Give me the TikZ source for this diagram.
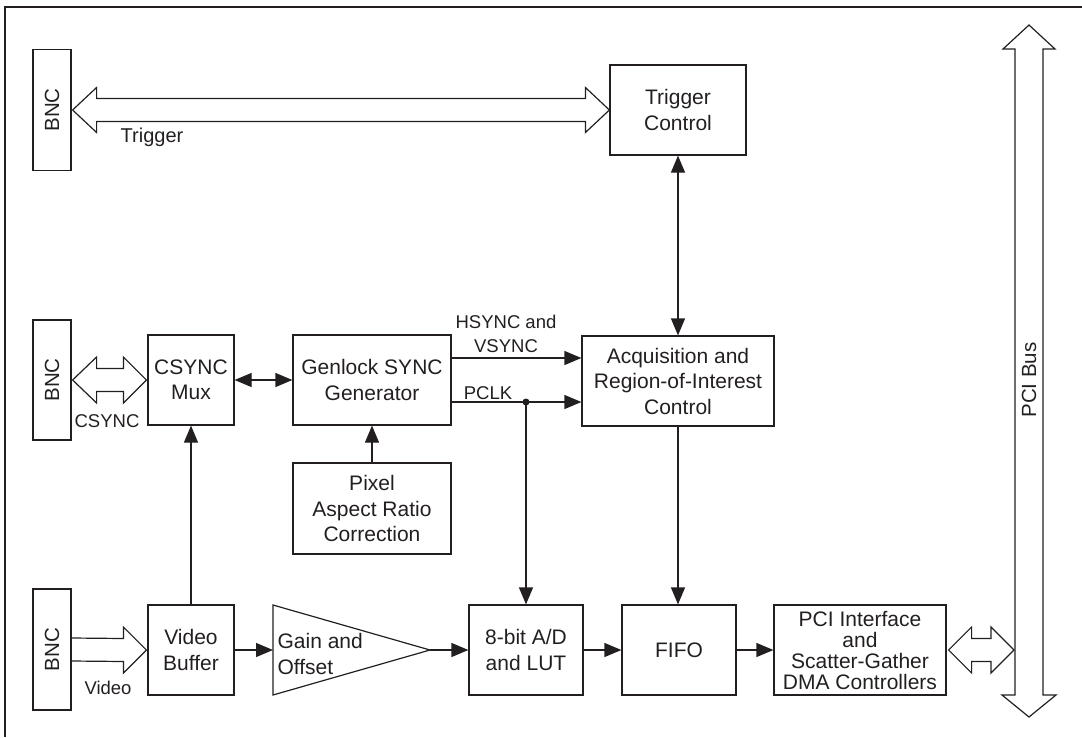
\documentclass[tikz,border=0pt]{standalone}
\usepackage{fontspec}
\usepackage{graphicx}
\setmainfont{Liberation Sans}
\usetikzlibrary{arrows.meta,calc}
\definecolor{ink}{RGB}{35,31,32}
\begin{document}
\begin{tikzpicture}[x=1pt,y=-1pt,
  box/.style={draw=ink, line width=1.2pt, text=ink, align=center, inner sep=0pt, font=\fontsize{21}{25.5}\selectfont},
  lbl/.style={text=ink, align=center, inner sep=0pt, font=\fontsize{18.5}{24}\selectfont},
  conn/.style={draw=ink, line width=1.2pt, -{Triangle[length=17pt,width=14pt]}},
  conn2/.style={draw=ink, line width=1.2pt, {Triangle[length=17pt,width=14pt]}-{Triangle[length=17pt,width=14pt]}},
  hollow/.style={draw=ink, line width=1.2pt, line join=miter},
  bnc/.style={box, minimum width=38pt, minimum height=121pt, font=\fontsize{20.5}{24}\selectfont}
]
\useasboundingbox (0,0) rectangle (1082,737);
% frame
\draw[ink, line width=1.5pt] (5,737) -- (5,7);
\draw[ink, line width=2pt] (4.25,7) -- (1082,7);

% BNC connectors
\node[bnc] (bnc1) at (52,110) {\rotatebox{90}{BNC}};
\node[bnc, minimum height=120pt] (bnc2) at (52,380) {\rotatebox{90}{BNC}};
\node[bnc] (bnc3) at (52,649.5) {\rotatebox{90}{BNC}};

% blocks
\node[box, minimum width=136pt, minimum height=90pt] (trig) at (678,110) {Trigger\\Control};
\node[box, minimum width=192pt, minimum height=90pt] (acq) at (678,381) {Acquisition and\\Region-of-Interest\\Control};
\node[box, minimum width=86pt, minimum height=90pt] (mux) at (191,380) {CSYNC\\Mux};
\node[box, minimum width=158pt, minimum height=90pt] (gen) at (372,380) {Genlock SYNC\\Generator};
\node[box, minimum width=158pt, minimum height=91pt] (pix) at (372,508.5) {Pixel\\Aspect Ratio\\Correction};
\node[box, minimum width=86pt, minimum height=90pt] (vbuf) at (191,650) {Video\\Buffer};
\node[box, minimum width=114pt, minimum height=90pt] (adc) at (526,650) {8-bit A/D\\and LUT};
\node[box, minimum width=114pt, minimum height=90pt] (fifo) at (679,650) {FIFO};
\node[box, minimum width=172pt, minimum height=90pt, font=\fontsize{21}{21}\selectfont] (pci) at (860,650) {PCI Interface\\and\\Scatter-Gather\\DMA Controllers};

% gain amplifier
\coordinate (gainW) at (273,650);
\coordinate (gainT) at (430,650);
\draw[ink, line width=1.2pt, line join=miter] (273,605) -- (gainT) -- (273,695) -- cycle;
\node[box, draw=none, anchor=west, align=left] (gaintxt) at (277,654) {Gain and\\Offset};

% PCI bus
\coordinate (bustop) at (1029,25);
\coordinate (busbot) at (1029,717);
\draw[hollow] (bustop) -- (1055,49) -- (1043,49) -- (1043,695) -- (1056,695) -- (busbot)
  -- (1002,695) -- (1015,695) -- (1015,49) -- (1003,49) -- cycle;
\node[lbl, rotate=90, font=\fontsize{20.5}{24}\selectfont] (buslbl) at (1029,380) {PCI Bus};

% hollow arrows
\draw[hollow] let \p1=($(bnc1.east)+(1,0)$), \p2=(trig.west) in
  (\x1,\y1) -- (\x1+24pt,\y1+22.5pt) -- (\x1+24pt,\y1+11.5pt) -- (\x2-24pt,\y2+11.5pt)
  -- (\x2-24pt,\y2+22.5pt) -- (\x2,\y2) -- (\x2-24pt,\y2-22.5pt) -- (\x2-24pt,\y2-11.5pt)
  -- (\x1+24pt,\y1-11.5pt) -- (\x1+24pt,\y1-22.5pt) -- cycle;
\draw[hollow] let \p1=($(bnc2.east)+(1,0)$), \p2=($(mux.west)+(-1,0)$) in
  (\x1,\y1) -- (\x1+24pt,\y1+23pt) -- (\x1+24pt,\y1+11.5pt) -- (\x2-23pt,\y2+11.5pt)
  -- (\x2-23pt,\y2+23pt) -- (\x2,\y2) -- (\x2-23pt,\y2-23pt) -- (\x2-23pt,\y2-11.5pt)
  -- (\x1+24pt,\y1-11.5pt) -- (\x1+24pt,\y1-23pt) -- cycle;
\draw[hollow] let \p1=(bnc3.east), \p2=($(vbuf.west)+(-1,0)$) in
  (\x1,\y1+11.5pt) -- (\x2-23pt,\y2+11.5pt) -- (\x2-23pt,\y2+23pt) -- (\x2,\y2)
  -- (\x2-23pt,\y2-23pt) -- (\x2-23pt,\y2-11.5pt) -- (\x1,\y1-11.5pt);
\draw[hollow] let \p1=($(pci.east)+(2,0)$), \p2=($(busbot |- pci.east)+(-15,0)$) in
  (\x1,\y1) -- (\x1+23pt,\y1+23pt) -- (\x1+23pt,\y1+11.5pt) -- (\x2-23pt,\y2+11.5pt)
  -- (\x2-23pt,\y2+23pt) -- (\x2,\y2) -- (\x2-23pt,\y2-23pt) -- (\x2-23pt,\y2-11.5pt)
  -- (\x1+23pt,\y1-11.5pt) -- (\x1+23pt,\y1-23pt) -- cycle;

% connectors
\draw[conn2] (mux) -- (gen);
\draw[conn] (vbuf) -- (mux);
\draw[conn] (pix) -- (gen);
\draw[conn2] (trig) -- (acq);
\coordinate (hs) at (0,358);
\coordinate (pc) at (0,402);
\draw[conn] (gen.east |- hs) -- (acq.west |- hs);
\draw[conn] (gen.east |- pc) -- (acq.west |- pc);
\coordinate (dot) at (adc.north |- pc);
\fill[ink] (dot) circle (3.5pt);
\draw[conn] (dot) -- (adc.north);
\draw[conn] (vbuf.east) -- (gainW);
\draw[conn] (gainT) -- (adc.west);
\draw[conn] (adc) -- (fifo);
\draw[conn] (acq.south) -- (acq.south |- fifo.north);
\draw[conn] (fifo) -- (pci);

% labels
\node[lbl, font=\fontsize{20}{24}\selectfont] (trglbl) at (152,137) {Trigger};
\node[lbl] (hvlbl) at (506,334) {HSYNC and\\VSYNC};
\node[lbl] (pclbl) at (488,393) {PCLK};
\node[lbl] (cslbl) at (107,421) {CSYNC};
\node[lbl] (vidlbl) at (108,688) {Video};
\end{tikzpicture}
\end{document}
